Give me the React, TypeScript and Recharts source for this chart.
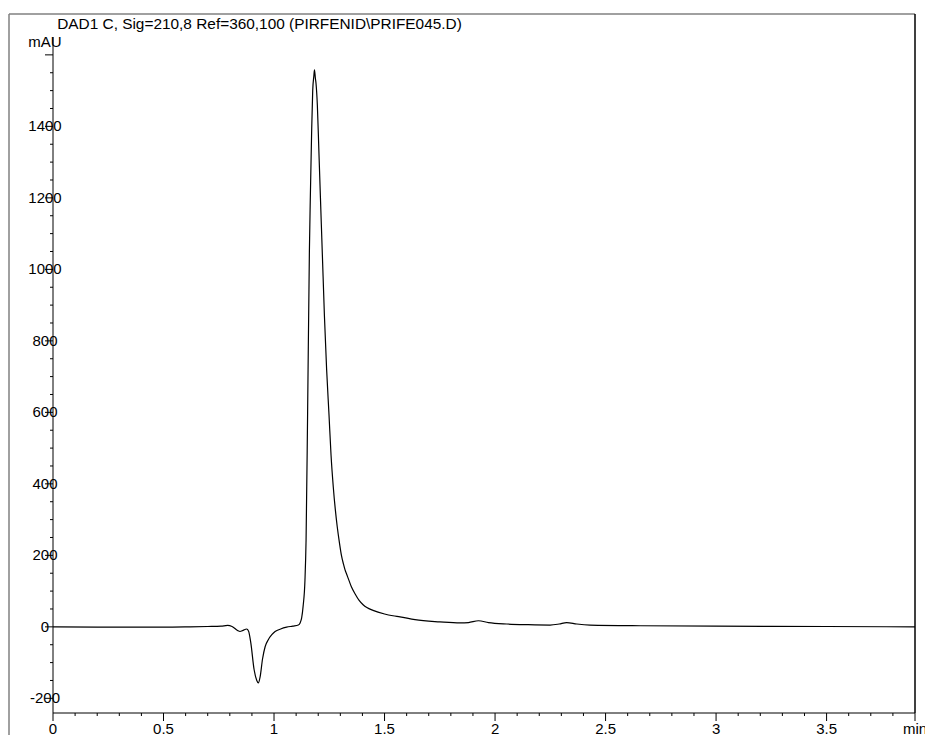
import React from 'react';
import { LineChart, Line, XAxis, YAxis } from 'recharts';

const titleText = 'DAD1 C, Sig=210,8 Ref=360,100 (PIRFENID\\PRIFE045.D)';
const yUnitLabel = 'mAU';
const xUnitLabel = 'min';

const timeMin = [
  0, 0.2, 0.5, 0.62, 0.7, 0.76, 0.79, 0.81, 0.835, 0.846, 0.86, 0.876, 0.885, 0.895,
  0.91, 0.922, 0.929, 0.937, 0.948, 0.96, 0.974, 0.99, 1.005, 1.03, 1.057, 1.085, 1.11,
  1.118, 1.125, 1.132, 1.14, 1.145, 1.152, 1.16, 1.164, 1.17, 1.175, 1.18, 1.183, 1.187,
  1.19, 1.196, 1.203, 1.21, 1.216, 1.222, 1.228, 1.238, 1.249, 1.258, 1.268, 1.277, 1.286,
  1.296, 1.305, 1.314, 1.321, 1.33, 1.339, 1.35, 1.367, 1.385, 1.403, 1.42, 1.448, 1.5,
  1.538, 1.57, 1.638, 1.75, 1.842, 1.88, 1.925, 1.97, 2.053, 2.15, 2.249, 2.29, 2.324,
  2.37, 2.43, 2.656, 3.0, 3.5, 3.9,
];
const signalMAU = [
  0, -0.5, -1, 0, 1, 2, 4, 1, -10, -13, -10, -6, -12, -45,
  -120, -150, -157, -140, -90, -55, -36, -22, -13, -6, -1, 2, 5,
  11, 25, 60, 131, 243, 600, 1050, 1194, 1380, 1500, 1540, 1558, 1535,
  1520, 1460, 1330, 1200, 1090, 980, 870, 720, 590, 480, 392, 330, 280,
  235, 200, 176, 160, 145, 130, 112, 92, 74, 62, 54, 46, 36,
  31, 28, 20, 14, 11, 12, 17, 12, 8, 6, 5, 8, 12,
  8, 5, 3, 2, 1, 0,
];

const yTicks = [
  -200, -150, -100, -50, 0, 50, 100, 150, 200, 250, 300, 350, 400, 450, 500, 550, 600,
  650, 700, 750, 800, 850, 900, 950, 1000, 1050, 1100, 1150, 1200, 1250, 1300, 1350,
  1400, 1450, 1500, 1550, 1600,
];
const yMajorTicks = [-200, 0, 200, 400, 600, 800, 1000, 1200, 1400, 1600];
const yLabelTicks = [-200, 0, 200, 400, 600, 800, 1000, 1200, 1400];

const xTicks = [
  0, 0.1, 0.2, 0.3, 0.4, 0.5, 0.6, 0.7, 0.8, 0.9, 1, 1.1, 1.2, 1.3, 1.4, 1.5, 1.6, 1.7,
  1.8, 1.9, 2, 2.1, 2.2, 2.3, 2.4, 2.5, 2.6, 2.7, 2.8, 2.9, 3, 3.1, 3.2, 3.3, 3.4, 3.5,
  3.6, 3.7, 3.8, 3.9,
];
const xLabelTicks = [0, 0.5, 1, 1.5, 2, 2.5, 3, 3.5];
const xUnitTick = 3.9;

const data = timeMin.map((t, i) => ({ t, v: signalMAU[i] }));

const FONT = 'Arial, "Liberation Sans", sans-serif';
const near = (a: number, b: number) => Math.abs(a - b) < 1e-6;

const YTick = (props: any) => {
  const { x, y, payload } = props;
  const v = payload.value;
  const major = yMajorTicks.some((m) => near(m, v));
  const label = yLabelTicks.some((m) => near(m, v));
  return (
    <g>
      <line x1={x - (major ? 8 : 3)} x2={x} y1={y} y2={y} stroke="#000" strokeWidth={1} />
      {label && (
        <text x={x - 8} y={y} dy={5} textAnchor="middle" fontSize={15} fontFamily={FONT} fill="#000">
          {v}
        </text>
      )}
    </g>
  );
};

const XTick = (props: any) => {
  const { x, y, payload } = props;
  const v = payload.value;
  const isUnit = near(v, xUnitTick);
  const label = xLabelTicks.some((m) => near(m, v));
  const major = label || isUnit;
  return (
    <g>
      <line x1={x} x2={x} y1={y} y2={y + (major ? 8 : 3)} stroke="#000" strokeWidth={1} />
      {(label || isUnit) && (
        <text x={x} y={y + 21} textAnchor="middle" fontSize={15} fontFamily={FONT} fill="#000">
          {isUnit ? xUnitLabel : String(v)}
        </text>
      )}
    </g>
  );
};

export default function App() {
  return (
    <div style={{ position: 'absolute', left: 0, top: 0, width: 925, height: 735, background: '#fff', overflow: 'hidden' }}>
      <LineChart width={925} height={735} data={data} margin={{ top: 37, right: 10, bottom: 0, left: 0 }}>
        <XAxis
          dataKey="t"
          type="number"
          domain={[0, 3.9]}
          ticks={xTicks}
          interval={0}
          height={22}
          tickSize={0}
          tickMargin={0}
          tickLine={false}
          axisLine={{ stroke: '#000', strokeWidth: 1 }}
          tick={<XTick />}
          allowDataOverflow
        />
        <YAxis
          type="number"
          domain={[-241, 1650]}
          ticks={yTicks}
          interval={0}
          width={53}
          tickSize={0}
          tickMargin={0}
          tickLine={false}
          axisLine={{ stroke: '#000', strokeWidth: 1 }}
          tick={<YTick />}
          allowDataOverflow
        />
        <Line
          dataKey="v"
          type="monotone"
          stroke="#000"
          strokeWidth={1.2}
          dot={false}
          isAnimationActive={false}
        />
      </LineChart>
      <svg
        width={925}
        height={735}
        style={{ position: 'absolute', left: 0, top: 0, pointerEvents: 'none' }}
      >
        <line x1={9} x2={915} y1={14} y2={14} stroke="#808080" strokeWidth={1.5} />
        <line x1={9} x2={9} y1={14} y2={735} stroke="#808080" strokeWidth={1.5} />
        <line x1={915} x2={915} y1={14} y2={713} stroke="#000" strokeWidth={1.5} />
        <text x={259.5} y={29} textAnchor="middle" fontSize={15.4} fontFamily={FONT} fill="#000">
          {titleText}
        </text>
        <text x={45} y={47} textAnchor="middle" fontSize={15} fontFamily={FONT} fill="#000">
          {yUnitLabel}
        </text>
      </svg>
    </div>
  );
}
